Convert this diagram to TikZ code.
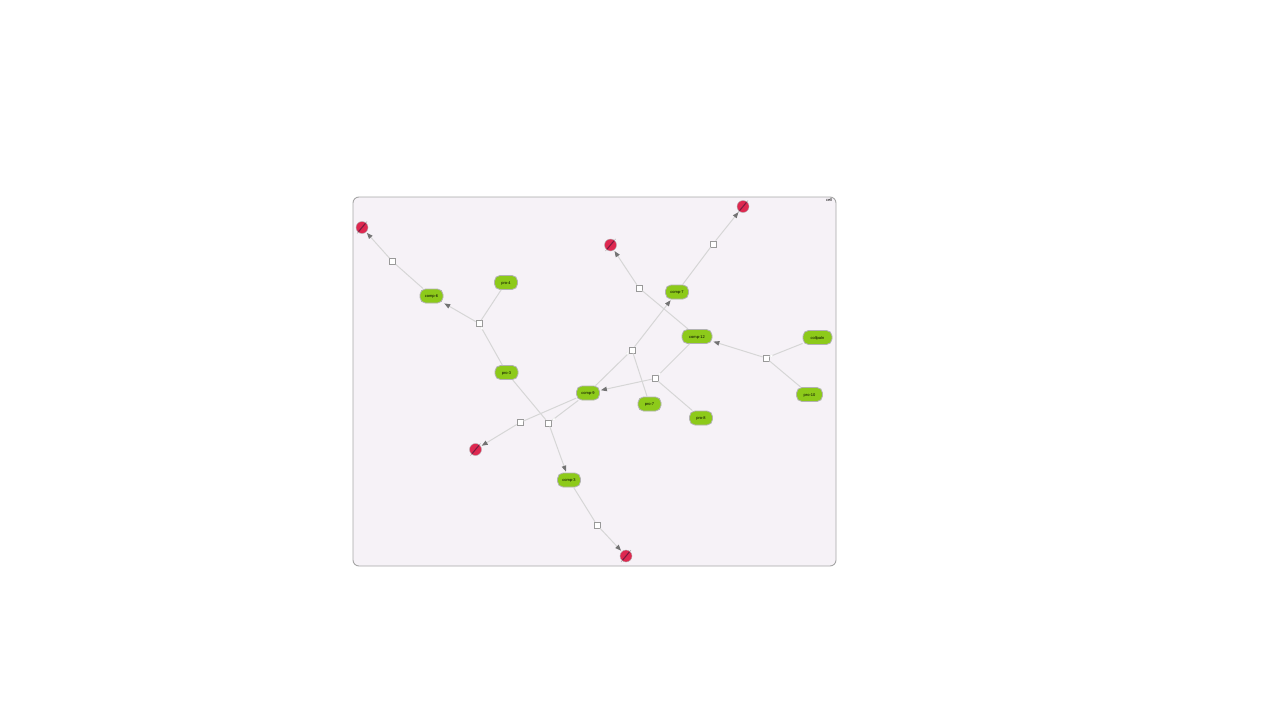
\documentclass[tikz,border=0pt]{standalone}
\usepackage{fontspec}
\setmainfont{Liberation Sans}
\usetikzlibrary{arrows.meta,calc}
\definecolor{canvasfill}{RGB}{246,242,247}
\definecolor{compgreen}{RGB}{141,202,26}
\definecolor{sinkred}{RGB}{222,40,80}
\definecolor{sinkdark}{RGB}{130,20,60}
\tikzset{species/.style={rounded corners=5.5, draw={black!30}, fill=compgreen, line width=0.8pt, minimum height=14, inner sep=0, text height=3, text depth=0, font=\fontsize{4}{4}\selectfont}}
\tikzset{sink/.style={circle, draw={black!30}, fill=sinkred, minimum size=12, inner sep=0, line width=0.4pt}}
\tikzset{proc/.style={draw={black!40}, fill=white, minimum size=6, inner sep=0, line width=0.7pt}}
\tikzset{handle/.style={circle, draw={black!8}, fill=white, minimum size=3, inner sep=0, line width=0.2pt}}
\tikzset{arr/.style={draw={black!16}, line width=1pt}}
\tikzset{arrtip/.style={arr, -{Stealth[length=6, width=4.5, inset=0, color=black!55]}, shorten >=1pt}}
\newcommand\sinknode[3]{
		\node[sink] (#1) at (#2,#3) {};
		\draw[black!40, line width=0.4pt] ($(#1)+(-5,6)$) -- ($(#1)+(5,-6)$);
		\draw[sinkdark, line width=1.1pt] ($(#1)+(-3.5,4.2)$) -- ($(#1)+(3.5,-4.2)$);
	}

\begin{document}
\begin{tikzpicture}[x=1pt,y=-1pt]
	\useasboundingbox (0,0) rectangle (1280,720);
	\node[draw={black!35}, fill=canvasfill, rounded corners=6, line width=0.9pt, minimum width=483, minimum height=369, inner sep=0] (canvas) at (594.5,381.5) {};
	\node[font=\fontsize{4}{4}\selectfont, inner sep=0] (cell) at (829,200) {cell};

	\node[species, minimum width=23] (comp6) at (431.5,296) {comp-6};
	\node[species, minimum width=23] (pro4) at (506,282.5) {pro-4};
	\node[species, minimum width=23] (pro3) at (506.5,372.5) {pro-3};
	\node[species, minimum width=23] (comp7) at (677,292) {comp-7};
	\node[species, minimum width=30] (comp12) at (697,336.5) {comp-12};
	\node[species, minimum width=29] (collpaln) at (817.5,337.5) {collpaln};
	\node[species, minimum width=26] (pro10) at (809.5,394.5) {pro-10};
	\node[species, minimum width=23] (pro8) at (701,418) {pro-8};
	\node[species, minimum width=23] (pro7) at (649.5,404) {pro-7};
	\node[species, minimum width=23] (comp9) at (588,393) {comp-9};
	\node[species, minimum width=23] (comp3) at (569,480) {comp-3};

	\node[proc] (p1) at (392.5,261.5) {};
	\node[proc] (p2) at (479,323.5) {};
	\node[proc] (p3) at (639,288) {};
	\node[proc] (p4) at (713,244) {};
	\node[proc] (p5) at (632,350) {};
	\node[proc] (p6) at (655,378.5) {};
	\node[proc] (p7) at (766,358) {};
	\node[proc] (p8) at (520,422.5) {};
	\node[proc] (p9) at (548.5,423) {};
	\node[proc] (p10) at (597,525) {};

	\sinknode{s1}{362}{227.5}
	\sinknode{s2}{610.5}{245}
	\sinknode{s3}{743}{206.5}
	\sinknode{s4}{475.5}{449.5}
	\sinknode{s5}{626}{556}

	\draw[arr] (comp6) -- (p1);
	\draw[arrtip] (p1) -- (s1);
	\draw[arr] (pro4) -- (p2);
	\draw[arr] (pro3) -- (p2);
	\draw[arrtip] (p2) -- (comp6);
	\draw[arr] (comp12) -- (p3);
	\draw[arrtip] (p3) -- (s2);
	\draw[arr] (comp7) -- (p4);
	\draw[arrtip] (p4) -- (s3);
	\draw[arr] (comp9) -- (p5);
	\draw[arr] (pro7) -- (p5);
	\draw[arrtip] (p5) -- (comp7);
	\draw[arr] (comp12) -- (p6);
	\draw[arr] (pro8) -- (p6);
	\draw[arrtip] (p6) -- (comp9);
	\draw[arr] (collpaln) -- (p7);
	\draw[arr] (pro10) -- (p7);
	\draw[arrtip] (p7) -- (comp12);
	\draw[arr] (comp9) -- (p8);
	\draw[arrtip] (p8) -- (s4);
	\draw[arr] (pro3) -- (p9);
	\draw[arr] (comp9) -- (p9);
	\draw[arrtip] (p9) -- (comp3);
	\draw[arr] (comp3) -- (p10);
	\draw[arrtip] (p10) -- (s5);

	\node[handle] (h2) at (481.7,328.3) {};
	\node[handle] (h5) at (627.3,353.3) {};
	\node[handle] (h6) at (659.3,374) {};
	\node[handle] (h7) at (771.3,356) {};
	\node[handle] (h9) at (554,419.3) {};
\end{tikzpicture}
\end{document}
